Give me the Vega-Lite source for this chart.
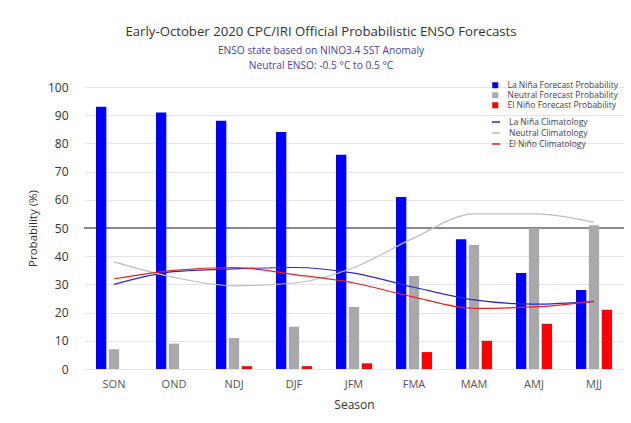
{
  "$schema": "https://vega.github.io/schema/vega-lite/v6.json",
  "width": 540,
  "height": 282,
  "autosize": {"type": "none"},
  "padding": {"left": 84, "top": 87, "right": 7, "bottom": 54},
  "background": "white",
  "config": {
    "view": {"stroke": null},
    "font": "Open Sans",
    "legend": {"padding": 0},
    "axisY": {
      "values": [0, 10, 20, 30, 40, 50, 60, 70, 80, 90, 100],
      "domain": false,
      "ticks": false,
      "gridColor": "#e6e6e6",
      "labelFont": "Open Sans",
      "labelFontSize": 12,
      "labelColor": "#333333",
      "labelPadding": 16,
      "labelOverlap": false,
      "titleFont": "Open Sans",
      "titleFontSize": 11.5,
      "titleFontWeight": "normal",
      "titleColor": "#333333",
      "titlePadding": 9
    }
  },
  "title": {
    "text": "Early-October 2020 CPC/IRI Official Probabilistic ENSO Forecasts",
    "subtitle": ["ENSO state based on NINO3.4 SST Anomaly", "Neutral ENSO: -0.5 °C to 0.5 °C"],
    "anchor": "middle",
    "dx": -33,
    "offset": 9,
    "font": "Open Sans",
    "fontSize": 13.2,
    "fontWeight": "normal",
    "color": "#333333",
    "subtitleFont": "Open Sans",
    "subtitleFontSize": 10.2,
    "subtitleColor": "#4a3f9a",
    "subtitlePadding": 7,
    "subtitleLineHeight": 15
  },
  "datasets": {
    "bars": [
      {"season": "SON", "type": "La Niña Forecast Probability", "prob": 93},
      {"season": "SON", "type": "Neutral Forecast Probability", "prob": 7},
      {"season": "SON", "type": "El Niño Forecast Probability", "prob": 0},
      {"season": "OND", "type": "La Niña Forecast Probability", "prob": 91},
      {"season": "OND", "type": "Neutral Forecast Probability", "prob": 9},
      {"season": "OND", "type": "El Niño Forecast Probability", "prob": 0},
      {"season": "NDJ", "type": "La Niña Forecast Probability", "prob": 88},
      {"season": "NDJ", "type": "Neutral Forecast Probability", "prob": 11},
      {"season": "NDJ", "type": "El Niño Forecast Probability", "prob": 1},
      {"season": "DJF", "type": "La Niña Forecast Probability", "prob": 84},
      {"season": "DJF", "type": "Neutral Forecast Probability", "prob": 15},
      {"season": "DJF", "type": "El Niño Forecast Probability", "prob": 1},
      {"season": "JFM", "type": "La Niña Forecast Probability", "prob": 76},
      {"season": "JFM", "type": "Neutral Forecast Probability", "prob": 22},
      {"season": "JFM", "type": "El Niño Forecast Probability", "prob": 2},
      {"season": "FMA", "type": "La Niña Forecast Probability", "prob": 61},
      {"season": "FMA", "type": "Neutral Forecast Probability", "prob": 33},
      {"season": "FMA", "type": "El Niño Forecast Probability", "prob": 6},
      {"season": "MAM", "type": "La Niña Forecast Probability", "prob": 46},
      {"season": "MAM", "type": "Neutral Forecast Probability", "prob": 44},
      {"season": "MAM", "type": "El Niño Forecast Probability", "prob": 10},
      {"season": "AMJ", "type": "La Niña Forecast Probability", "prob": 34},
      {"season": "AMJ", "type": "Neutral Forecast Probability", "prob": 50},
      {"season": "AMJ", "type": "El Niño Forecast Probability", "prob": 16},
      {"season": "MJJ", "type": "La Niña Forecast Probability", "prob": 28},
      {"season": "MJJ", "type": "Neutral Forecast Probability", "prob": 51},
      {"season": "MJJ", "type": "El Niño Forecast Probability", "prob": 21}
    ],
    "clim": [
      {"season": "SON", "type": "La Niña Climatology", "prob": 30},
      {"season": "OND", "type": "La Niña Climatology", "prob": 34.5},
      {"season": "NDJ", "type": "La Niña Climatology", "prob": 35.5},
      {"season": "DJF", "type": "La Niña Climatology", "prob": 36},
      {"season": "JFM", "type": "La Niña Climatology", "prob": 34},
      {"season": "FMA", "type": "La Niña Climatology", "prob": 29},
      {"season": "MAM", "type": "La Niña Climatology", "prob": 24.5},
      {"season": "AMJ", "type": "La Niña Climatology", "prob": 23},
      {"season": "MJJ", "type": "La Niña Climatology", "prob": 24},
      {"season": "SON", "type": "Neutral Climatology", "prob": 38},
      {"season": "OND", "type": "Neutral Climatology", "prob": 32.5},
      {"season": "NDJ", "type": "Neutral Climatology", "prob": 29.5},
      {"season": "DJF", "type": "Neutral Climatology", "prob": 30.5},
      {"season": "JFM", "type": "Neutral Climatology", "prob": 36},
      {"season": "FMA", "type": "Neutral Climatology", "prob": 46.5},
      {"season": "MAM", "type": "Neutral Climatology", "prob": 55},
      {"season": "AMJ", "type": "Neutral Climatology", "prob": 55},
      {"season": "MJJ", "type": "Neutral Climatology", "prob": 52},
      {"season": "SON", "type": "El Niño Climatology", "prob": 32},
      {"season": "OND", "type": "El Niño Climatology", "prob": 35},
      {"season": "NDJ", "type": "El Niño Climatology", "prob": 36},
      {"season": "DJF", "type": "El Niño Climatology", "prob": 33.5},
      {"season": "JFM", "type": "El Niño Climatology", "prob": 30.5},
      {"season": "FMA", "type": "El Niño Climatology", "prob": 25.5},
      {"season": "MAM", "type": "El Niño Climatology", "prob": 21.5},
      {"season": "AMJ", "type": "El Niño Climatology", "prob": 22},
      {"season": "MJJ", "type": "El Niño Climatology", "prob": 24}
    ],
    "ref": [{"prob": 50}]
  },
  "layer": [
    {
      "data": {"name": "ref"},
      "mark": {"type": "rule", "color": "#888888", "strokeWidth": 2},
      "encoding": {
        "y": {"field": "prob", "type": "quantitative", "scale": {"domain": [0, 100], "nice": false}, "axis": {"title": "Probability (%)"}}
      }
    },
    {
      "data": {"name": "bars"},
      "mark": {"type": "bar"},
      "encoding": {
        "x": {
          "field": "season",
          "type": "nominal",
          "sort": ["SON", "OND", "NDJ", "DJF", "JFM", "FMA", "MAM", "AMJ", "MJJ"],
          "scale": {"paddingInner": 0.4, "paddingOuter": 0.2},
          "axis": {
            "title": "Season",
            "labelAngle": 0,
            "domain": false,
            "ticks": false,
            "labelFont": "Open Sans",
            "labelFontSize": 11,
            "labelColor": "#555555",
            "labelPadding": 9,
            "titleFont": "Open Sans",
            "titleFontSize": 12,
            "titleFontWeight": "normal",
            "titleColor": "#333333",
            "titlePadding": 10
          }
        },
        "xOffset": {
          "field": "type",
          "type": "nominal",
          "sort": ["La Niña Forecast Probability", "Neutral Forecast Probability", "El Niño Forecast Probability"],
          "scale": {"paddingInner": 0.2, "paddingOuter": 0}
        },
        "y": {
          "field": "prob",
          "type": "quantitative",
          "scale": {"domain": [0, 100], "nice": false},
          "axis": {"title": "Probability (%)"}
        },
        "fill": {
          "field": "type",
          "type": "nominal",
          "scale": {
            "domain": ["La Niña Forecast Probability", "Neutral Forecast Probability", "El Niño Forecast Probability"],
            "range": ["#0000ff", "#a9a9a9", "#ff0000"]
          },
          "legend": {
            "title": null,
            "orient": "none",
            "legendX": 407,
            "legendY": -6,
            "symbolType": "square",
            "symbolSize": 36,
            "symbolStrokeWidth": 0,
            "labelFont": "Open Sans",
            "labelFontSize": 8.5,
            "labelColor": "#444444",
            "labelOffset": 8,
            "rowPadding": 1
          }
        }
      }
    },
    {
      "data": {"name": "clim"},
      "mark": {"type": "line", "interpolate": "monotone", "strokeWidth": 1.2},
      "encoding": {
        "x": {"field": "season", "type": "nominal", "sort": ["SON", "OND", "NDJ", "DJF", "JFM", "FMA", "MAM", "AMJ", "MJJ"]},
        "y": {"field": "prob", "type": "quantitative", "axis": {"title": "Probability (%)"}},
        "stroke": {
          "field": "type",
          "type": "nominal",
          "scale": {
            "domain": ["La Niña Climatology", "Neutral Climatology", "El Niño Climatology"],
            "range": ["#2a2acc", "#bdbdbd", "#e82020"]
          },
          "legend": {
            "title": null,
            "orient": "none",
            "legendX": 407,
            "legendY": 30,
            "symbolType": "stroke",
            "symbolSize": 64,
            "symbolStrokeWidth": 1.5,
            "labelFont": "Open Sans",
            "labelFontSize": 8.5,
            "labelColor": "#444444",
            "labelOffset": 8,
            "rowPadding": 1
          }
        }
      }
    }
  ]
}
